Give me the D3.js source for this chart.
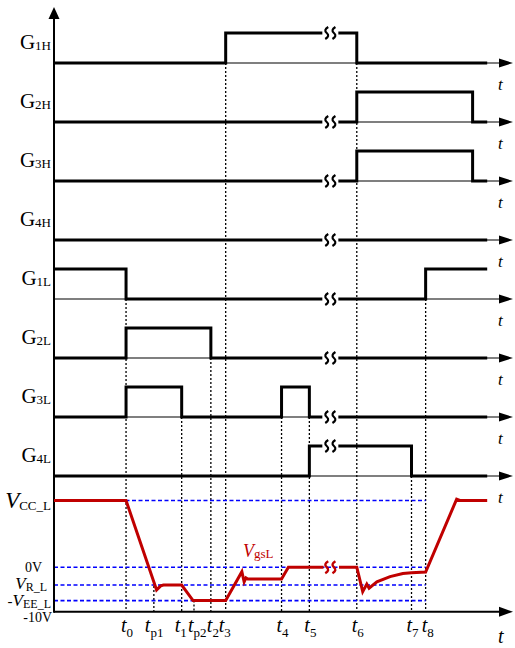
<!DOCTYPE html>
<html>
<head>
<meta charset="utf-8">
<title>gate timing</title>
<script src="https://cdnjs.cloudflare.com/ajax/libs/d3/7.8.5/d3.min.js"></script>
<style>
  body { margin: 0; background: #fff; }
  svg { display: block; font-family: 'Liberation Serif', 'Times New Roman', serif; }
</style>
</head>
<body>
<svg id="svg" width="515" height="648"></svg>
<script>
// time runs 0..100 in arbitrary units, the axis break sits at breakAt
const tickNames = ['0', 'p1', '1', 'p2', '2', '3', '4', '5', '6', '7', '8'];
const tickTimes = [15.8, 21.9, 28.0, 30.7, 34.4, 37.65, 49.9, 56.0, 66.4, 78.4, 81.5];
const tickFromRow = [4, null, 6, null, 5, 0, 6, 6, 0, 7, 4]; // null = starts on the Vgs curve

const gateNames = ['1H', '2H', '3H', '4H', '1L', '2L', '3L', '4L'];
const gateStart = [0, 0, 0, 0, 1, 0, 0, 0];
const gateEdges = [
  [37.65, 66.4],
  [66.4, 91.8],
  [66.4, 91.8],
  [],
  [15.8, 81.5],
  [15.8, 34.4],
  [15.8, 28.0, 49.9, 56.0],
  [56.0, 78.4]
];
const gateEnd = 95;
const breakAt = 60.6;

// V_gsL trace, null marks the break
const vgsTime = [0, 15.8, 22.5, 23.4, 24.0, 28.0, 30.5, 37.65, 41.2, 41.7, 42.1, 42.5, 49.9, 51.4, 59.1, 60.6, 62.5, 66.4, 67.7, 68.6, 69.1, 70.8, 73.7, 76.5, 78.4, 81.5, 88.3, 89.0, 95];
const vgsVolt = [15, 15, -5.1, -4.2, -4, -4, -7.5, -7.5, -1.0, -3.3, -2.4, -2.65, -2.65, 0, 0, null, 0, 0, -5.5, -3.8, -4.7, -3.3, -2.1, -1.4, -1.25, -1.1, 15.3, 15, 15];

const levelMain = ['V', '0V', 'V', '-V', '-10V'];
const levelSub = ['CC_L', '', 'R_L', 'EE_L', ''];
const levelVolt = [15, 0, -4, -7.5, -10];

const svg = d3.select('#svg');
const x = d3.scaleLinear().domain([0, 100]).range([54, 510]);
const rowY = d3.scaleLinear().domain([0, 7]).range([63, 476]);
const lvl = d3.scaleLinear().domain([0, 1]).range([0, -30]);
const vY = d3.scaleLinear().domain([-10, 15]).range([611.7, 500.5]);
const red = '#c00000';

const vgs = vgsTime.map((t, i) => [t, vgsVolt[i]]);
function vgsAt(t) {
  const pts = vgs.filter(d => d[1] !== null);
  const i = d3.bisector(d => d[0]).right(pts, t);
  const a = pts[i - 1], b = pts[i];
  return a[1] + (b[1] - a[1]) * (t - a[0]) / (b[0] - a[0]);
}

function squiggle(g, cx, yb, color, w) {
  g.append('path')
    .attr('d', `M${cx + 1.5},${yb - 6}Q${cx - 3.5},${yb - 3} ${cx},${yb}Q${cx + 3.5},${yb + 3} ${cx - 1.5},${yb + 6}`)
    .attr('fill', 'none').attr('stroke', color).attr('stroke-width', w);
}

// black dotted guides
svg.append('g').selectAll('line')
  .data(tickTimes)
  .join('line')
  .attr('x1', d => x(d)).attr('x2', d => x(d))
  .attr('y1', (d, i) => tickFromRow[i] === null ? vY(vgsAt(d)) : rowY(tickFromRow[i]))
  .attr('y2', vY(-10))
  .attr('stroke', '#000').attr('stroke-width', 1.3).attr('stroke-dasharray', '2,2');

// blue dashed voltage levels
svg.append('g').selectAll('line')
  .data(levelVolt.slice(0, 4))
  .join('line')
  .attr('x1', x(0)).attr('x2', x(tickTimes[10]))
  .attr('y1', d => vY(d)).attr('y2', d => vY(d))
  .attr('stroke', '#0000ff').attr('stroke-width', 1.6).attr('stroke-dasharray', '4,2.5');

// gate rows
const rows = svg.append('g');
gateNames.forEach((name, r) => {
  const y0 = rowY(r);
  rows.append('line').attr('x1', x(0)).attr('x2', x(100) - 6).attr('y1', y0).attr('y2', y0)
    .attr('stroke', '#000').attr('stroke-width', 1.2);
  rows.append('path').attr('d', `M${x(100) + 3},${y0}L${x(100) - 11},${y0 - 4.5}L${x(100) - 11},${y0 + 4.5}Z`);
  rows.append('text').attr('x', x(100) - 12).attr('y', y0 + 27)
    .attr('font-size', 17).attr('font-style', 'italic').text('t');

  let s = gateStart[r];
  const pts = [[0, s]];
  gateEdges[r].forEach(t => { s = 1 - s; pts.push([t, s]); });
  pts.push([gateEnd, s]);
  rows.append('path')
    .attr('d', d3.line().x(d => x(d[0])).y(d => y0 + lvl(d[1])).curve(d3.curveStepAfter)(pts))
    .attr('fill', 'none').attr('stroke', '#000').attr('stroke-width', 3);

  // break
  const lv = pts.filter(d => d[0] <= breakAt).pop()[1];
  const yb = y0 + lvl(lv);
  rows.append('rect').attr('x', x(breakAt) - 8).attr('y', yb - 3).attr('width', 16).attr('height', 6).attr('fill', '#fff');
  squiggle(rows, x(breakAt) - 3.6, yb, '#000', 2.2);
  squiggle(rows, x(breakAt) + 3.6, yb, '#000', 2.2);

  const lab = rows.append('text').attr('x', 51).attr('y', y0 - 14).attr('text-anchor', 'end');
  lab.append('tspan').attr('font-size', 21).text('G');
  lab.append('tspan').attr('font-size', 13).attr('dy', 1).text(name);
});

// main axes
svg.append('line').attr('x1', x(0)).attr('x2', x(0)).attr('y1', vY(-10) + 1).attr('y2', 16)
  .attr('stroke', '#000').attr('stroke-width', 2);
svg.append('path').attr('d', `M${x(0)},7L${x(0) - 5.5},19L${x(0) + 5.5},19Z`);
svg.append('line').attr('x1', x(0)).attr('x2', x(100) - 6).attr('y1', vY(-10)).attr('y2', vY(-10))
  .attr('stroke', '#000').attr('stroke-width', 2);
svg.append('path').attr('d', `M${x(100) + 3},${vY(-10)}L${x(100) - 11},${vY(-10) - 5}L${x(100) - 11},${vY(-10) + 5}Z`);
svg.append('text').attr('x', x(100) - 12).attr('y', 643).attr('font-size', 20).attr('font-style', 'italic').text('t');

// V_gsL curve
svg.append('path')
  .attr('d', d3.line().defined(d => d[1] !== null).x(d => x(d[0])).y(d => vY(d[1]))(vgs))
  .attr('fill', 'none').attr('stroke', red).attr('stroke-width', 3).attr('stroke-linejoin', 'miter');
squiggle(svg, x(breakAt) - 3.6, vY(0), red, 2.4);
squiggle(svg, x(breakAt) + 3.6, vY(0), red, 2.4);
const vl = svg.append('text').attr('x', 243).attr('y', 557).attr('fill', red);
vl.append('tspan').attr('font-size', 18).attr('font-style', 'italic').text('V');
vl.append('tspan').attr('font-size', 13).attr('dy', 1).text('gsL');

// voltage labels
const labRight = [51, 42, 47, 51, 52];
const labDy = [7.5, 4.5, 4, 5.5, 10];
const labSize = [23, 14, 17, 17, 14];
levelMain.forEach((m, i) => {
  const t = svg.append('text').attr('x', labRight[i]).attr('y', vY(levelVolt[i]) + labDy[i]).attr('text-anchor', 'end');
  if (levelSub[i]) {
    if (m.startsWith('-')) t.append('tspan').attr('font-size', 15).text('-');
    t.append('tspan').attr('font-size', labSize[i]).attr('font-style', 'italic').text('V');
    t.append('tspan').attr('font-size', i === 0 ? 13 : 12).attr('dy', 1.5).text(levelSub[i]);
  } else {
    t.append('tspan').attr('font-size', labSize[i]).text(m);
  }
});

// time tick labels, start offsets from the guide line
const nudge = { '0': -5, 'p1': -9, '1': -7, 'p2': -6, '2': -4, '3': -7, '8': -4 };
tickNames.forEach((n, i) => {
  const t = svg.append('text').attr('x', x(tickTimes[i]) + (nudge[n] !== undefined ? nudge[n] : -5)).attr('y', 632);
  t.append('tspan').attr('font-size', 20).attr('font-style', 'italic').text('t');
  t.append('tspan').attr('font-size', 13).attr('dy', 5).text(n);
});
</script>
</body>
</html>
